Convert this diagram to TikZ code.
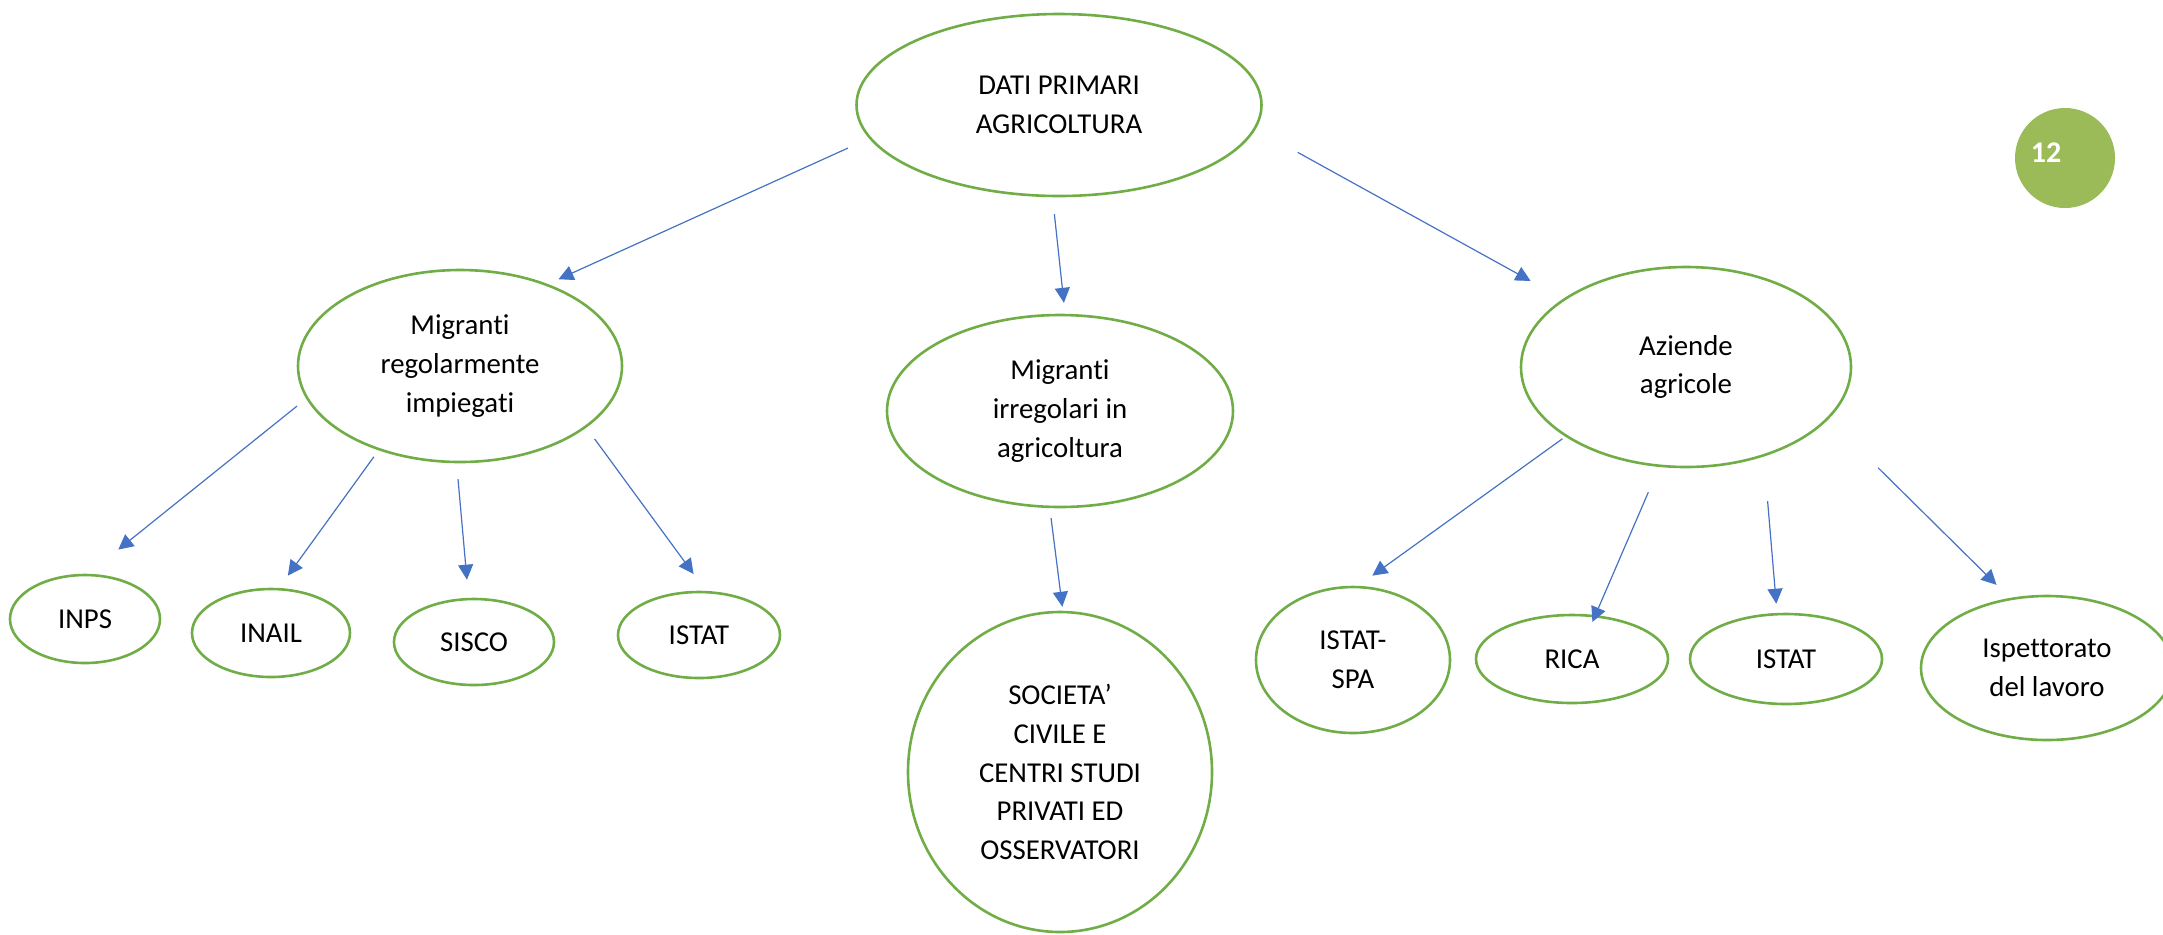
\documentclass[tikz,border=0pt]{standalone}
\usepackage{fontspec}
\setmainfont{Carlito}[Ligatures=NoCommon, RawFeature=-liga]
\usepackage{xcolor}
\usepackage{tikz}
\usetikzlibrary{arrows.meta, shapes.geometric}

\definecolor{bubblegreen}{HTML}{70AD47}
\definecolor{arrowblue}{HTML}{4472C4}
\definecolor{badgegreen}{HTML}{9BBB59}

\tikzset{
  bubble/.style={ellipse, draw=bubblegreen, line width=1.3pt, inner sep=0pt,
    align=center, font=\fontsize{14.4}{19.4}\selectfont},
  link/.style={-{Triangle[length=7.5pt,width=7.5pt]}, draw=arrowblue, line width=0.6pt},
  badge/.style={circle, fill=badgegreen, minimum size=50pt, inner sep=0pt},
}

\begin{document}
\begin{tikzpicture}[x=0.5pt, y=-0.5pt]
    \useasboundingbox (0,0) rectangle (2163,934);

    % Top node
    \node[bubble, minimum width=202.5pt, minimum height=91pt] (root) at (1059,105) {DATI PRIMARI\\AGRICOLTURA};

    % Second level
    \node[bubble, minimum width=162pt, minimum height=96pt] (migreg) at (460,366) {Migranti\\regolarmente\\impiegati};
    \node[bubble, minimum width=173pt, minimum height=96pt] (migirr) at (1060,411) {Migranti\\irregolari in\\agricoltura};
    \node[bubble, minimum width=165pt, minimum height=100pt] (aziende) at (1686,367) {Aziende\\agricole};

    % Sources of the regular migrants
    \node[bubble, minimum width=75pt, minimum height=44pt] (inps) at (85,619) {INPS};
    \node[bubble, minimum width=79pt, minimum height=44pt] (inail) at (271,633) {INAIL};
    \node[bubble, minimum width=80pt, minimum height=43pt] (sisco) at (474,642) {SISCO};
    \node[bubble, minimum width=81pt, minimum height=43pt] (istat1) at (699,635) {ISTAT};

    % Sources of the irregular migrants
    \node[bubble, minimum width=152pt, minimum height=160pt] (societa) at (1060,772) {SOCIETA’\\CIVILE E\\CENTRI STUDI\\PRIVATI ED\\OSSERVATORI};

    % Sources of the farms
    \node[bubble, minimum width=97pt, minimum height=73pt] (istatspa) at (1353,660) {ISTAT-\\SPA};
    \node[bubble, minimum width=96pt, minimum height=44pt] (rica) at (1572,659) {RICA};
    \node[bubble, minimum width=96pt, minimum height=45pt] (istat2) at (1786,659) {ISTAT};
    \node[bubble, minimum width=126pt, minimum height=72pt] (ispett) at (2047,668) {Ispettorato\\del lavoro};

    % Page badge
    \node[badge] (badge) at (2065,158) {};
    \node[text=white, font=\fontsize{15}{18}\selectfont\bfseries] (pagenum) at (2046,153) {12};

    % Arrows from the top node
    \draw[link, shorten <=11.6pt, shorten >=5.8pt] (root.190.1) -- (migreg.43.2);
    \draw[link, shorten <=8.5pt, shorten >=5.5pt] (root.266.4) -- (migirr.87);
    \draw[link, shorten <=24pt, shorten >=18.5pt] (root.353) -- (aziende.151.3);

    % Arrows to the sources
    \draw[link, shorten <=5.9pt, shorten >=19.3pt] (migreg.192.5) -- (inps.86.4);
    \draw[link, shorten <=4pt, shorten >=7.6pt] (migreg.226.2) -- (inail.80.8);
    \draw[link, shorten <=8pt, shorten >=9.1pt] (migreg.268) -- (sisco.97.2);
    \draw[link, shorten <=7pt, shorten >=10.5pt] (migreg.334.3) -- (istat1.81.5);
    \draw[link, shorten <=5pt, shorten >=2pt] (migirr.264.6) -- (societa.89.1);
    \draw[link, shorten <=1.8pt, shorten >=8.7pt] (aziende.210.6) -- (istatspa.86.9);
    \draw[link, shorten <=13.75pt, shorten >=-3.75pt] (aziende.255.9) -- (rica.62.8);
    \draw[link, shorten <=22.4pt, shorten >=4.6pt] (aziende.311.1) -- (istat2.101.6);
    \draw[link, shorten <=34.7pt, shorten >=9.3pt] (aziende.340.9) -- (ispett.118.2);
\end{tikzpicture}
\end{document}
